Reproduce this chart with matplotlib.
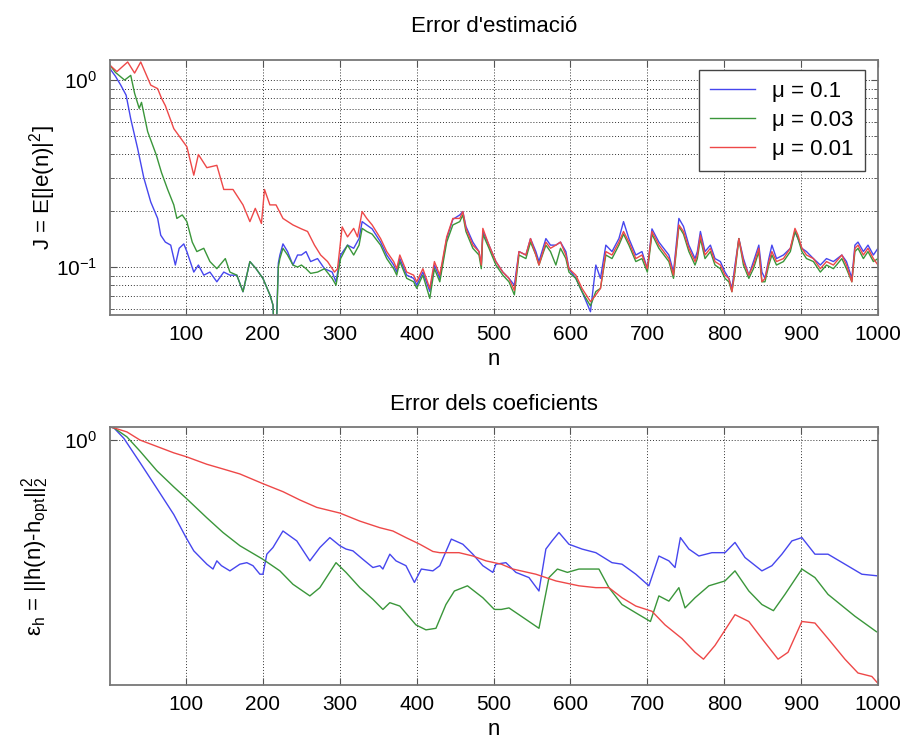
import matplotlib
matplotlib.use('Agg')
import matplotlib.pyplot as plt
import matplotlib.ticker as mticker

plt.rcParams['font.family'] = ['Liberation Sans', 'DejaVu Sans']
plt.rcParams['mathtext.fontset'] = 'custom'
plt.rcParams['mathtext.rm'] = 'Liberation Sans'
plt.rcParams['mathtext.it'] = 'Liberation Sans:italic'

# --- data ------------------------------------------------------------------
labels = ['μ = 0.1', 'μ = 0.03', 'μ = 0.01']
colors = ['#4646ee', '#3a963a', '#ee4848']
xticks = [100, 200, 300, 400, 500, 600, 700, 800, 900, 1000]

# top: J = E[|e(n)|^2]   (n, J)
blue_top = [(1, 1.15), (8, 1.05), (15, 0.94), (22, 0.83), (28, 0.62), (37, 0.43), (45, 0.30),
            (54, 0.223), (63, 0.182), (67, 0.148), (73, 0.136), (80, 0.131), (86, 0.1025),
            (91, 0.126), (97, 0.133), (101, 0.121), (110, 0.094), (116, 0.1025), (123, 0.0905),
            (131, 0.094), (140, 0.0834), (149, 0.094), (157, 0.0905), (166, 0.0905), (174, 0.0738),
            (183, 0.107), (191, 0.098), (200, 0.0869), (209, 0.071), (213, 0.0627), (216, 0.03),
            (220, 0.105), (222, 0.116), (226, 0.133), (232, 0.121), (239, 0.1025), (245, 0.116),
            (250, 0.116), (256, 0.121), (262, 0.107), (271, 0.111), (280, 0.098), (290, 0.094),
            (295, 0.0834), (301, 0.116), (310, 0.131), (318, 0.126), (325, 0.142), (329, 0.175),
            (335, 0.168), (342, 0.160), (353, 0.136), (361, 0.116), (370, 0.1025), (374, 0.094),
            (378, 0.111), (387, 0.0905), (396, 0.087), (400, 0.080), (408, 0.094), (417, 0.074),
            (423, 0.1025), (430, 0.087), (439, 0.142), (447, 0.18), (456, 0.19), (460, 0.198),
            (464, 0.165), (473, 0.136), (481, 0.121), (484, 0.1025), (486, 0.155), (494, 0.131),
            (503, 0.107), (512, 0.094), (520, 0.087), (527, 0.080), (533, 0.121), (542, 0.116),
            (548, 0.142), (555, 0.121), (559, 0.107), (568, 0.142), (574, 0.131), (581, 0.131),
            (587, 0.136), (594, 0.121), (598, 0.098), (607, 0.087), (615, 0.074), (626, 0.0577),
            (633, 0.1025), (639, 0.087), (646, 0.131), (654, 0.121), (663, 0.142), (669, 0.175),
            (676, 0.142), (685, 0.116), (693, 0.121), (700, 0.098), (706, 0.160), (715, 0.136),
            (728, 0.116), (734, 0.094), (741, 0.182), (747, 0.165), (754, 0.131), (762, 0.111),
            (765, 0.121), (769, 0.155), (775, 0.121), (782, 0.131), (788, 0.111), (795, 0.107),
            (801, 0.094), (806, 0.087), (810, 0.077), (814, 0.1025), (819, 0.142), (825, 0.111),
            (832, 0.0905), (838, 0.107), (845, 0.131), (849, 0.094), (853, 0.0869), (858, 0.111),
            (862, 0.131), (868, 0.111), (877, 0.116), (886, 0.126), (892, 0.155), (896, 0.142),
            (901, 0.126), (907, 0.121), (916, 0.111), (925, 0.1025), (933, 0.111), (942, 0.107),
            (953, 0.116), (959, 0.107), (966, 0.087), (970, 0.131), (974, 0.136), (981, 0.121),
            (987, 0.131), (994, 0.116), (1000, 0.126)]

green_top = [(1, 1.2), (8, 1.10), (20, 1.0), (28, 1.06), (33, 0.85), (39, 0.706), (42, 0.76),
             (50, 0.53), (61, 0.40), (68, 0.32), (76, 0.26), (84, 0.215), (88, 0.182), (95, 0.19),
             (101, 0.175), (108, 0.136), (114, 0.121), (123, 0.126), (131, 0.107), (140, 0.098),
             (151, 0.111), (157, 0.094), (166, 0.0905), (174, 0.0738), (183, 0.107), (191, 0.098),
             (200, 0.0869), (209, 0.071), (213, 0.0627), (216, 0.03), (220, 0.1), (222, 0.111),
             (226, 0.126), (232, 0.116), (239, 0.1025), (245, 0.1), (250, 0.1025), (256, 0.098),
             (262, 0.0925), (271, 0.094), (280, 0.098), (290, 0.087), (295, 0.080), (301, 0.111),
             (310, 0.131), (318, 0.116), (325, 0.131), (329, 0.161), (335, 0.155), (342, 0.150),
             (353, 0.131), (361, 0.111), (370, 0.098), (374, 0.0905), (378, 0.107), (387, 0.087),
             (396, 0.0834), (400, 0.077), (408, 0.0905), (417, 0.068), (423, 0.098), (430, 0.0834),
             (439, 0.136), (447, 0.168), (456, 0.175), (460, 0.19), (464, 0.155), (473, 0.126),
             (481, 0.116), (484, 0.098), (486, 0.15), (494, 0.126), (503, 0.1025), (512, 0.0905),
             (520, 0.0834), (527, 0.071), (533, 0.116), (542, 0.111), (548, 0.136), (555, 0.116),
             (559, 0.1025), (568, 0.131), (574, 0.121), (581, 0.1025), (587, 0.126), (594, 0.111),
             (598, 0.094), (607, 0.0869), (615, 0.0738), (626, 0.062), (633, 0.074), (639, 0.0769),
             (646, 0.116), (654, 0.111), (663, 0.131), (669, 0.150), (676, 0.131), (685, 0.107),
             (693, 0.111), (700, 0.094), (706, 0.150), (715, 0.126), (728, 0.107), (734, 0.087),
             (741, 0.165), (747, 0.15), (754, 0.121), (762, 0.1025), (765, 0.111), (769, 0.142),
             (775, 0.111), (782, 0.121), (788, 0.1025), (795, 0.098), (801, 0.087), (806, 0.0834),
             (810, 0.0738), (814, 0.094), (819, 0.142), (825, 0.1025), (832, 0.087), (838, 0.098),
             (845, 0.121), (849, 0.0834), (853, 0.0834), (858, 0.1025), (862, 0.116), (868, 0.1025),
             (877, 0.107), (886, 0.121), (892, 0.155), (896, 0.142), (901, 0.121), (907, 0.111),
             (916, 0.107), (925, 0.094), (933, 0.1025), (942, 0.098), (953, 0.111), (959, 0.098),
             (966, 0.0834), (970, 0.121), (974, 0.126), (981, 0.111), (987, 0.121), (994, 0.107),
             (1000, 0.111)]

red_top = [(1, 1.20), (10, 1.11), (24, 1.25), (33, 1.09), (41, 1.25), (54, 0.94), (63, 0.90),
           (68, 0.80), (73, 0.73), (84, 0.55), (101, 0.44), (110, 0.31), (116, 0.40), (127, 0.34),
           (140, 0.35), (149, 0.26), (161, 0.26), (174, 0.215), (183, 0.175), (190, 0.206),
           (198, 0.171), (202, 0.26), (209, 0.215), (217, 0.215), (226, 0.182), (239, 0.168),
           (250, 0.160), (258, 0.155), (267, 0.131), (275, 0.116), (284, 0.107), (293, 0.094),
           (297, 0.098), (303, 0.164), (310, 0.145), (318, 0.161), (323, 0.145), (329, 0.198),
           (335, 0.182), (342, 0.168), (353, 0.142), (361, 0.121), (370, 0.107), (374, 0.098),
           (378, 0.116), (387, 0.094), (396, 0.0905), (400, 0.0834), (408, 0.098), (417, 0.0769),
           (423, 0.107), (430, 0.0905), (439, 0.145), (447, 0.182), (456, 0.182), (460, 0.198),
           (464, 0.161), (473, 0.131), (481, 0.121), (484, 0.1025), (486, 0.161), (494, 0.131),
           (503, 0.107), (512, 0.094), (520, 0.087), (527, 0.075), (533, 0.121), (542, 0.116),
           (548, 0.142), (555, 0.116), (559, 0.1025), (568, 0.136), (574, 0.126), (581, 0.131),
           (587, 0.136), (594, 0.116), (598, 0.098), (607, 0.0905), (615, 0.0769), (626, 0.0653),
           (633, 0.071), (639, 0.0769), (646, 0.121), (654, 0.116), (663, 0.136), (669, 0.155),
           (676, 0.136), (685, 0.111), (693, 0.116), (700, 0.098), (706, 0.155), (715, 0.131),
           (728, 0.111), (734, 0.0905), (741, 0.168), (747, 0.155), (754, 0.126), (762, 0.107),
           (765, 0.116), (769, 0.148), (775, 0.116), (782, 0.126), (788, 0.107), (795, 0.1025),
           (801, 0.0905), (806, 0.0869), (810, 0.0738), (814, 0.098), (819, 0.142), (825, 0.107),
           (832, 0.0905), (838, 0.1025), (845, 0.126), (849, 0.0834), (853, 0.0869), (858, 0.107),
           (862, 0.121), (868, 0.107), (877, 0.111), (886, 0.126), (892, 0.161), (896, 0.148),
           (901, 0.126), (907, 0.116), (916, 0.111), (925, 0.098), (933, 0.107), (942, 0.1025),
           (953, 0.116), (959, 0.1025), (966, 0.0834), (970, 0.126), (974, 0.131), (981, 0.116),
           (987, 0.126), (994, 0.111), (1000, 0.1025)]

# bottom: eps_h = ||h(n)-h_opt||^2   (n, eps)
blue_bot = [(1, 1.0045), (6, 1.0042), (19, 1.0006), (40, 0.9923), (62, 0.9835), (84, 0.9747),
            (100, 0.9670), (110, 0.9626), (127, 0.9582), (135, 0.9566), (140, 0.9593), (146, 0.9577),
            (157, 0.9560), (170, 0.9582), (179, 0.9587), (187, 0.9577), (196, 0.9549), (200, 0.9549),
            (205, 0.9615), (213, 0.9637), (226, 0.9692), (244, 0.9659), (261, 0.9593), (274, 0.9637),
            (287, 0.9670), (300, 0.9643), (308, 0.9632), (317, 0.9626), (330, 0.9598), (343, 0.9571),
            (352, 0.9577), (356, 0.9566), (365, 0.9615), (373, 0.9593), (386, 0.9577), (397, 0.9522),
            (406, 0.9566), (421, 0.9560), (430, 0.9577), (445, 0.9665), (460, 0.9648), (473, 0.9615),
            (486, 0.9577), (499, 0.9555), (503, 0.9582), (516, 0.9587), (529, 0.9555), (546, 0.9538),
            (559, 0.9494), (568, 0.9632), (576, 0.9659), (585, 0.9687), (598, 0.9648), (615, 0.9632),
            (633, 0.9620), (654, 0.9587), (667, 0.9582), (685, 0.9549), (702, 0.9511), (715, 0.9609),
            (728, 0.9593), (736, 0.9571), (743, 0.9670), (754, 0.9632), (767, 0.9609), (784, 0.9620),
            (801, 0.9620), (814, 0.9654), (827, 0.9604), (849, 0.9560), (862, 0.9577), (875, 0.9615),
            (888, 0.9659), (901, 0.9670), (918, 0.9615), (935, 0.9615), (957, 0.9582), (979, 0.9549),
            (998, 0.9544)]

green_bot = [(1, 1.0045), (6, 1.0042), (23, 1.0011), (40, 0.9962), (62, 0.9895), (84, 0.9840),
             (100, 0.9802), (127, 0.9736), (148, 0.9687), (170, 0.9643), (200, 0.9598), (222, 0.9560),
             (239, 0.9516), (261, 0.9478), (274, 0.9505), (295, 0.9587), (308, 0.9555), (326, 0.9505),
             (343, 0.9467), (356, 0.9434), (365, 0.9456), (378, 0.9445), (399, 0.9384), (412, 0.9368),
             (425, 0.9373), (438, 0.9450), (449, 0.9494), (466, 0.9511), (486, 0.9472), (501, 0.9434),
             (510, 0.9434), (520, 0.9439), (533, 0.9417), (546, 0.9395), (559, 0.9373), (572, 0.9538),
             (583, 0.9566), (596, 0.9555), (611, 0.9566), (637, 0.9566), (650, 0.9505), (667, 0.9450),
             (689, 0.9417), (704, 0.9395), (715, 0.9478), (728, 0.9461), (741, 0.9505), (749, 0.9439),
             (762, 0.9472), (780, 0.9511), (801, 0.9527), (814, 0.9560), (832, 0.9494), (849, 0.9450),
             (864, 0.9430), (879, 0.9483), (901, 0.9566), (918, 0.9538), (935, 0.9483), (970, 0.9412),
             (998, 0.9362)]

red_bot = [(1, 1.0045), (6, 1.0042), (23, 1.0028), (40, 1.0000), (62, 0.9978), (84, 0.9956),
           (100, 0.9943), (127, 0.9917), (148, 0.9901), (170, 0.9884), (200, 0.9851), (226, 0.9824),
           (248, 0.9796), (270, 0.9771), (300, 0.9752), (326, 0.9725), (352, 0.9703), (369, 0.9692),
           (386, 0.9670), (404, 0.9648), (421, 0.9624), (430, 0.9620), (455, 0.9620), (473, 0.9609),
           (490, 0.9593), (510, 0.9582), (525, 0.9566), (555, 0.9549), (581, 0.9527), (611, 0.9511),
           (633, 0.9505), (650, 0.9505), (667, 0.9472), (685, 0.9445), (706, 0.9428), (723, 0.9384),
           (745, 0.9340), (762, 0.9296), (773, 0.9274), (788, 0.9318), (814, 0.9417), (832, 0.9395),
           (849, 0.9340), (870, 0.9274), (883, 0.9296), (901, 0.9395), (918, 0.9390), (935, 0.9340),
           (957, 0.9274), (974, 0.9230), (992, 0.9219), (1000, 0.9197)]

# --- figure ------------------------------------------------------------------
fig = plt.figure(figsize=(9.03, 7.44), dpi=100)
ax1 = fig.add_axes([0.1218, 0.5766, 0.8505, 0.3427])
ax2 = fig.add_axes([0.1218, 0.0793, 0.8505, 0.3468])

grid_kw = dict(color='#333333', linestyle=(0, (1, 2)), linewidth=0.7)

for ax, series in [(ax1, [blue_top, green_top, red_top]), (ax2, [blue_bot, green_bot, red_bot])]:
    for s, c, lab in zip(series, colors, labels):
        n, v = zip(*s)
        ax.plot(n, v, color=c, lw=1.0, label=lab)
    ax.set_yscale('log')
    ax.set_xlim(1, 1000)
    ax.set_xticks(xticks)
    ax.set_xlabel('n', fontsize=16, labelpad=4)
    ax.tick_params(which='both', direction='in', top=True, right=True, labelsize=15,
                   color='#555555')
    ax.tick_params(axis='both', which='major', length=5, pad=7)
    ax.tick_params(axis='y', which='major', pad=9)
    ax.tick_params(which='minor', length=3)
    ax.xaxis.grid(True, **grid_kw)
    for sp in ax.spines.values():
        sp.set_color('#777777')
        sp.set_linewidth(1.3)

# top panel
ax1.set_ylim(0.0554, 1.28)
ax1.yaxis.set_major_locator(mticker.FixedLocator([0.1, 1.0]))
ax1.yaxis.set_major_formatter(mticker.FixedFormatter([r'$10^{-1}$', r'$10^{0}$']))
ax1.yaxis.set_minor_locator(mticker.LogLocator(base=10, subs=range(2, 10)))
ax1.yaxis.set_minor_formatter(mticker.NullFormatter())
ax1.yaxis.grid(True, which='both', **grid_kw)
ax1.set_ylabel('J = E[|e(n)|$^2$]', fontsize=16, labelpad=-1)
ax1.set_title("Error d'estimació", fontsize=16, pad=20)
leg = ax1.legend(loc='upper right', bbox_to_anchor=(0.983, 0.961), borderaxespad=0,
                 fontsize=16, fancybox=False, edgecolor='#444444', framealpha=1,
                 handlelength=2.0, handletextpad=0.8, labelspacing=0.35, borderpad=0.5)
leg.get_frame().set_linewidth(1.0)

# bottom panel
ax2.set_ylim(0.9192, 1.0045)
ax2.yaxis.set_major_locator(mticker.FixedLocator([1.0]))
ax2.yaxis.set_major_formatter(mticker.FixedFormatter([r'$10^{0}$']))
ax2.yaxis.set_minor_locator(mticker.NullLocator())
ax2.yaxis.grid(True, which='major', **grid_kw)
ax2.set_ylabel('ε$_{\\mathrm{h}}$ = ||h(n)-h$_{\\mathrm{opt}}$||$^2_2$', fontsize=16, labelpad=10)
ax2.set_title('Error dels coeficients', fontsize=16, pad=12)

fig.savefig('out.png', dpi=100)
